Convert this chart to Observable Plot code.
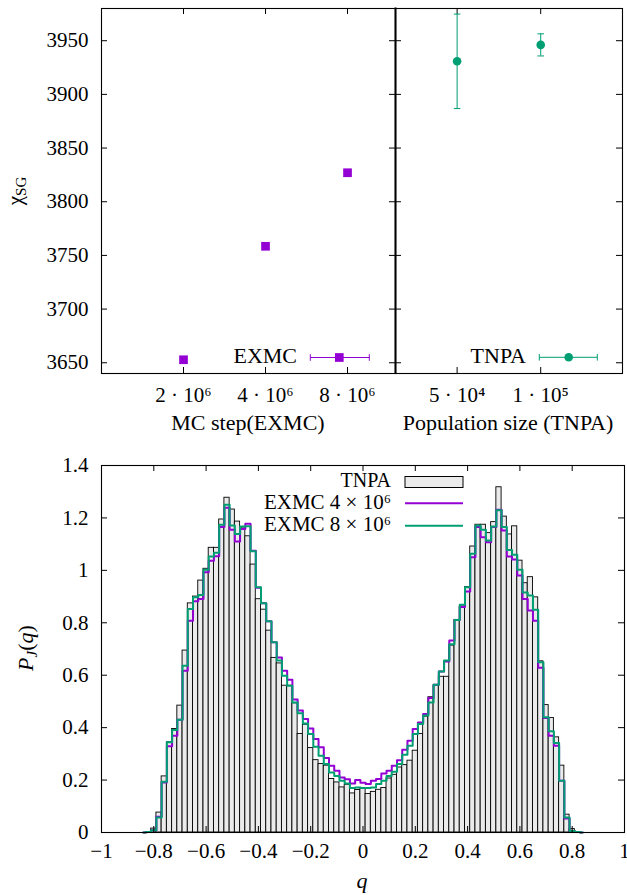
<!DOCTYPE html>
<html><head><meta charset="utf-8">
<script src="https://cdn.jsdelivr.net/npm/d3@7"></script>
<script src="https://cdn.jsdelivr.net/npm/@observablehq/plot@0.6"></script>
<style>
body{margin:0;background:#fff;}
#wrap{position:relative;width:627px;height:895px;overflow:hidden;background:#fff;}
#wrap svg{position:absolute;left:0;top:0;}
</style></head><body><div id="wrap"></div>
<script>
// ---------- data: top panels ----------
const exmcSteps = [2e6, 4e6, 8e6];
const exmcChi = [3652.8, 3758.5, 3827.0];
const tnpaPop = [5e4, 1e5];
const tnpaChi = [3930.8, 3946.1];
const tnpaErr = [44.0, 10.3];
const chiTicks = [3650, 3700, 3750, 3800, 3850, 3900, 3950];
const exmcTicks = [2e6, 4e6, 8e6];
const exmcTickLabels = ["2 · 10⁶", "4 · 10⁶", "8 · 10⁶"];
const tnpaTicks = [5e4, 1e5];
const tnpaTickLabels = ["5 · 10⁴", "1 · 10⁵"];

// ---------- data: histogram ----------
const binWidth = 0.02;
const qCenters = [-0.84,-0.82,-0.80,-0.78,-0.76,-0.74,-0.72,-0.70,-0.68,-0.66,-0.64,-0.62,-0.60,-0.58,-0.56,-0.54,-0.52,-0.50,-0.48,-0.46,-0.44,-0.42,-0.40,-0.38,-0.36,-0.34,-0.32,-0.30,-0.28,-0.26,-0.24,-0.22,-0.20,-0.18,-0.16,-0.14,-0.12,-0.10,-0.08,-0.06,-0.04,-0.02,0,0.02,0.04,0.06,0.08,0.10,0.12,0.14,0.16,0.18,0.20,0.22,0.24,0.26,0.28,0.30,0.32,0.34,0.36,0.38,0.40,0.42,0.44,0.46,0.48,0.50,0.52,0.54,0.56,0.58,0.60,0.62,0.64,0.66,0.68,0.70,0.72,0.74,0.76,0.78,0.80,0.82,0.84];
const pTNPA = [0,0.002,0.015,0.076,0.214,0.344,0.395,0.484,0.694,0.874,0.900,0.961,1.006,1.086,1.086,1.194,1.277,1.232,1.186,1.160,1.130,1.022,0.890,0.850,0.770,0.666,0.645,0.560,0.560,0.493,0.376,0.411,0.322,0.276,0.261,0.255,0.204,0.191,0.172,0.182,0.149,0.162,0.170,0.147,0.155,0.163,0.170,0.206,0.220,0.248,0.257,0.274,0.312,0.376,0.442,0.516,0.560,0.594,0.594,0.713,0.811,0.862,0.936,1.091,1.174,1.174,1.142,1.184,1.317,1.205,1.137,1.168,1.037,0.951,0.974,0.897,0.653,0.486,0.437,0.363,0.255,0.068,0.013,0,0];
const pEXMC4 = [0,0.002,0.009,0.060,0.191,0.329,0.369,0.430,0.617,0.808,0.882,0.891,0.993,1.037,1.054,1.165,1.239,1.155,1.110,1.158,1.178,1.075,0.934,0.875,0.806,0.726,0.668,0.617,0.583,0.507,0.465,0.433,0.397,0.357,0.325,0.284,0.255,0.236,0.210,0.203,0.187,0.200,0.190,0.185,0.197,0.204,0.225,0.236,0.255,0.276,0.316,0.350,0.395,0.420,0.452,0.513,0.564,0.614,0.652,0.732,0.811,0.860,0.919,1.050,1.165,1.126,1.107,1.165,1.231,1.152,1.053,1.041,0.980,0.891,0.847,0.808,0.628,0.437,0.369,0.331,0.197,0.053,0.006,0.002,0];
const pEXMC8 = [0,0.002,0.009,0.057,0.194,0.344,0.391,0.430,0.636,0.853,0.897,0.906,1.002,1.053,1.067,1.174,1.250,1.171,1.139,1.167,1.168,1.073,0.936,0.875,0.806,0.726,0.656,0.598,0.560,0.496,0.455,0.416,0.376,0.327,0.293,0.261,0.229,0.216,0.197,0.187,0.170,0.172,0.170,0.170,0.172,0.185,0.197,0.216,0.232,0.261,0.297,0.331,0.376,0.414,0.446,0.496,0.564,0.614,0.656,0.718,0.811,0.869,0.936,1.063,1.171,1.155,1.114,1.167,1.229,1.165,1.078,1.060,1.002,0.916,0.904,0.850,0.649,0.440,0.386,0.341,0.197,0.057,0.006,0.002,0];
const qTicks = [-1,-0.8,-0.6,-0.4,-0.2,0,0.2,0.4,0.6,0.8,1];
const qTickLabels = ["−1","−0.8","−0.6","−0.4","−0.2","0","0.2","0.4","0.6","0.8","1"];
const pTicks = [0,0.2,0.4,0.6,0.8,1,1.2,1.4];
const pTickLabels = ["0","0.2","0.4","0.6","0.8","1","1.2","1.4"];

// ---------- styling ----------
const FONT = "'Liberation Serif', 'DejaVu Serif', serif";
const PURPLE = "#9400d3", GREEN = "#009e73";
const svgStyle = {background: "transparent", overflow: "visible", fontFamily: FONT, fontSize: "21px", color: "#000"};
const TL = 6; // tick length
const wrap = document.getElementById("wrap");

function frameTicks(xt, yt, fw, fh) {
  return [
    Plot.tickY(yt, {y: d => d, insetRight: fw - TL, stroke: "#000", strokeWidth: 1}),
    Plot.tickY(yt, {y: d => d, insetLeft: fw - TL, stroke: "#000", strokeWidth: 1}),
    Plot.tickX(xt, {x: d => d, insetBottom: fh - TL, stroke: "#000", strokeWidth: 1}),
    Plot.tickX(xt, {x: d => d, insetTop: fh - TL, stroke: "#000", strokeWidth: 1})
  ];
}

// ---------- panel 1: EXMC ----------
{
  const W = 627, H = 440, ML = 101, MR = 232, MT = 8, MB = 67;
  const fw = W - ML - MR, fh = H - MT - MB;
  const pts = exmcSteps.map((s, i) => ({s, c: exmcChi[i]}));
  const p = Plot.plot({
    width: W, height: H, marginLeft: ML, marginRight: MR, marginTop: MT, marginBottom: MB,
    x: {type: "log", domain: [1e6, 1.2e7], axis: null},
    y: {domain: [3640, 3980], axis: null},
    style: svgStyle,
    marks: [
      ...frameTicks(exmcTicks, chiTicks, fw, fh),
      Plot.axisY(chiTicks, {tickSize: 0, tickPadding: 13, label: null, fontSize: 21, text: d => String(d)}),
      Plot.axisX(exmcTicks, {tickSize: 0, tickPadding: 14, label: null, fontSize: 21,
        text: d => exmcTickLabels[exmcTicks.indexOf(d)]}),
      Plot.dot(pts, {x: "s", y: "c", symbol: "square", r: 4.9, fill: PURPLE, stroke: "none"}),
      Plot.frame({stroke: "#000", strokeWidth: 1.1})
    ]
  });
  wrap.appendChild(p);
}

// ---------- panel 2: TNPA ----------
{
  const W = 627, H = 440, ML = 395, MR = 5, MT = 8, MB = 67;
  const fw = W - ML - MR, fh = H - MT - MB;
  const pts = tnpaPop.map((s, i) => ({s, c: tnpaChi[i], e: tnpaErr[i]}));
  const cap = {draw(ctx) { ctx.moveTo(-3.3, 0); ctx.lineTo(3.3, 0); }};
  const p = Plot.plot({
    width: W, height: H, marginLeft: ML, marginRight: MR, marginTop: MT, marginBottom: MB,
    x: {type: "log", domain: [3e4, 1.97e5], axis: null},
    y: {domain: [3640, 3980], axis: null},
    style: svgStyle,
    marks: [
      ...frameTicks(tnpaTicks, chiTicks, fw, fh),
      Plot.axisX(tnpaTicks, {tickSize: 0, tickPadding: 14, label: null, fontSize: 21,
        text: d => tnpaTickLabels[tnpaTicks.indexOf(d)]}),
      Plot.ruleX(pts, {x: "s", y1: d => d.c - d.e, y2: d => d.c + d.e, stroke: GREEN, strokeWidth: 1}),
      Plot.dot(pts, {x: "s", y: d => d.c - d.e, symbol: cap, fill: "none", stroke: GREEN, strokeWidth: 1}),
      Plot.dot(pts, {x: "s", y: d => d.c + d.e, symbol: cap, fill: "none", stroke: GREEN, strokeWidth: 1}),
      Plot.dot(pts, {x: "s", y: "c", r: 4.3, fill: GREEN, stroke: "none"}),
      Plot.frame({stroke: "#000", strokeWidth: 1.1})
    ]
  });
  wrap.appendChild(p);
}

// ---------- panel 3: histogram ----------
{
  const W = 627, H = 445, ML = 101, MR = 3, MT = 15, MB = 63;
  const fw = W - ML - MR, fh = H - MT - MB;
  const bars = qCenters.map((q, i) => ({q, v: pTNPA[i]}));
  const l4 = qCenters.map((q, i) => ({q, v: pEXMC4[i]}));
  const l8 = qCenters.map((q, i) => ({q, v: pEXMC8[i]}));
  const p = Plot.plot({
    width: W, height: H, marginLeft: ML, marginRight: MR, marginTop: MT, marginBottom: MB,
    x: {domain: [-1, 1], axis: null},
    y: {domain: [0, 1.4], axis: null},
    style: svgStyle,
    marks: [
      Plot.rectY(bars, {x1: d => d.q - binWidth / 2, x2: d => d.q + binWidth / 2, y: "v", fill: "#ebebeb", stroke: "#000", strokeWidth: 0.9}),
      Plot.line(l4, {x: "q", y: "v", curve: "step", stroke: PURPLE, strokeWidth: 2}),
      Plot.line(l8, {x: "q", y: "v", curve: "step", stroke: GREEN, strokeWidth: 2}),
      ...frameTicks(qTicks, pTicks, fw, fh),
      Plot.axisY(pTicks, {tickSize: 0, tickPadding: 13, label: null, fontSize: 21,
        text: d => pTickLabels[pTicks.indexOf(d)]}),
      Plot.axisX(qTicks, {tickSize: 0, tickPadding: 11, label: null, fontSize: 21,
        text: d => qTickLabels[qTicks.indexOf(d)]}),
      Plot.frame({stroke: "#000", strokeWidth: 1.1})
    ]
  });
  p.style.top = "450px";
  wrap.appendChild(p);
}

// ---------- labels and legends ----------
{
  const ov = d3.select(wrap).append("svg").attr("width", 627).attr("height", 895)
    .attr("font-family", FONT).style("overflow", "visible");
  const txt = (x, y, s, anchor, size) => ov.append("text").attr("x", x).attr("y", y)
    .attr("text-anchor", anchor).attr("font-size", size).attr("fill", "#000").text(s);

  // thicker shared border between the two top panels
  ov.append("line").attr("x1", 395.5).attr("x2", 395.5).attr("y1", 7.5).attr("y2", 373.5)
    .attr("stroke", "#000").attr("stroke-width", 2);

  // y label top
  const yl = ov.append("text").attr("transform", "translate(22,191) rotate(-90)")
    .attr("text-anchor", "middle").attr("font-size", 21).attr("fill", "#000");
  yl.append("tspan").text("χ");
  yl.append("tspan").attr("font-size", 15).attr("dy", 4).text("SG");

  txt(248, 430, "MC step(EXMC)", "middle", 22);
  txt(508, 430, "Population size (TNPA)", "middle", 22);

  // legend EXMC (top left)
  txt(297, 363, "EXMC", "end", 22);
  ov.append("line").attr("x1", 310.3).attr("x2", 369.3).attr("y1", 357.5).attr("y2", 357.5).attr("stroke", PURPLE);
  [310.3, 369.3].forEach(x => ov.append("line").attr("x1", x).attr("x2", x).attr("y1", 354.2).attr("y2", 360.8).attr("stroke", PURPLE));
  ov.append("rect").attr("x", 339.3 - 4.35).attr("y", 357.5 - 4.35).attr("width", 8.7).attr("height", 8.7).attr("fill", PURPLE);

  // legend TNPA (top right)
  txt(526, 363, "TNPA", "end", 22);
  ov.append("line").attr("x1", 539.3).attr("x2", 597.3).attr("y1", 357.3).attr("y2", 357.3).attr("stroke", GREEN);
  [539.3, 597.3].forEach(x => ov.append("line").attr("x1", x).attr("x2", x).attr("y1", 354).attr("y2", 360.6).attr("stroke", GREEN));
  ov.append("circle").attr("cx", 568.7).attr("cy", 357.3).attr("r", 4.3).attr("fill", GREEN);

  // histogram legend
  txt(391, 487, "TNPA", "end", 20);
  ov.append("rect").attr("x", 405).attr("y", 476.5).attr("width", 58).attr("height", 11)
    .attr("fill", "#ebebeb").attr("stroke", "#000").attr("stroke-width", 1);
  txt(391, 509, "EXMC 4 × 10⁶", "end", 21);
  ov.append("line").attr("x1", 405).attr("x2", 463).attr("y1", 503.3).attr("y2", 503.3).attr("stroke", PURPLE).attr("stroke-width", 2);
  txt(391, 531, "EXMC 8 × 10⁶", "end", 21);
  ov.append("line").attr("x1", 405).attr("x2", 463).attr("y1", 525.7).attr("y2", 525.7).attr("stroke", GREEN).attr("stroke-width", 2);

  // histogram axis labels
  txt(362, 888, "q", "middle", 22).attr("font-style", "italic");
  const pl = ov.append("text").attr("transform", "translate(33,648) rotate(-90)")
    .attr("text-anchor", "middle").attr("font-size", 22).attr("fill", "#000");
  pl.append("tspan").attr("font-style", "italic").text("P");
  pl.append("tspan").attr("font-style", "italic").attr("font-size", 15).attr("dy", 4).text("J");
  pl.append("tspan").attr("dy", -4).text("(");
  pl.append("tspan").attr("font-style", "italic").text("q");
  pl.append("tspan").text(")");
}
</script>
</body></html>
